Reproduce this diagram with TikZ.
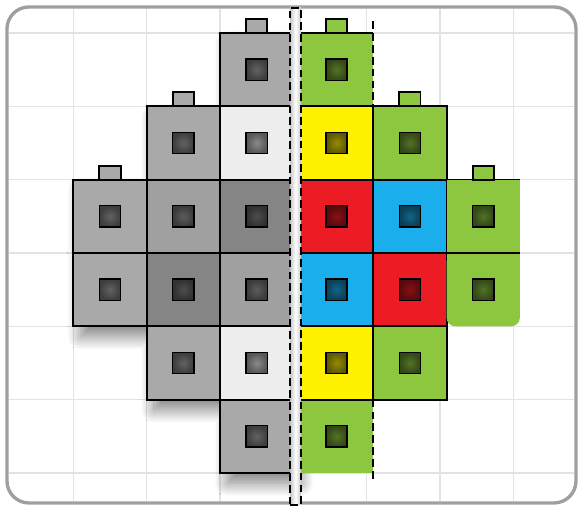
\documentclass[tikz,border=0pt]{standalone}
\usetikzlibrary{positioning, shadows.blur}

\definecolor{brickgreen}{HTML}{8DC63F}
\definecolor{brickyellow}{HTML}{FFF200}
\definecolor{brickred}{HTML}{EC1C24}
\definecolor{brickblue}{HTML}{1BAEEC}
\definecolor{greymid}{HTML}{A9A9A9}
\definecolor{greysoft}{HTML}{A0A0A0}
\definecolor{greydark}{HTML}{858585}
\definecolor{greylight}{HTML}{EDEDED}

\begin{document}
\begin{tikzpicture}[
    brick/.style={draw, line width=0.8pt, fill=#1, minimum size=1cm, inner sep=0pt, outer sep=0pt,
        path picture={\node[stud=#1] at (path picture bounding box.center) {};}},
    bare/.style={brick=#1, draw=none},
    stud/.style={draw, sharp corners, line width=0.6pt, minimum size=0.29cm, inner sep=0pt, inner color=#1!58!black, outer color=#1!36!black},
    knob/.style={draw, line width=0.7pt, fill=#1, minimum width=0.29cm, minimum height=0.19cm, inner sep=0pt, outer sep=0pt},
    board/.style={draw=gray!75, line width=1.3pt, rounded corners=0.3cm, inner sep=0pt, outer sep=0pt, minimum width=7.76cm, minimum height=6.764cm},
    gridline/.style={draw=black!11, line width=0.6pt},
    seam/.style={line width=0.5pt},
    edge/.style={line width=0.8pt},
    dashedge/.style={line width=0.9pt, dash pattern=on 3pt off 1.6pt},
    mirrorstrip/.style={draw, line width=0.8pt, dash pattern=on 3pt off 1.6pt, left color=gray!45, right color=gray!45, middle color=white, minimum width=0.15cm, minimum height=6.777cm, inner sep=0pt, outer sep=0pt}
]
\useasboundingbox (0,-0.477) rectangle (7.923,6.45);

% Board and grid
\node[board] (board) at (3.975,2.973) {};
\draw[gridline] ([shift={(0.03,0.03)}]board.south west) grid ([shift={(-0.03,-0.03)}]board.north east);

% Shadow under the grey half
\fill[white, blur shadow={shadow xshift=0.1cm, shadow yshift=-0.14cm, shadow blur radius=0.18cm, shadow blur steps=24, shadow opacity=50}]
    (1,4) -- (1,2) -- (2,2) -- (2,1) -- (3,1) -- (3,0) -- (4,0) -- (4,6) -- (3,6) -- (3,5) -- (2,5) -- (2,4) -- cycle;

% Grey half
\node[brick=greymid] (g12) at (1.5,2.5) {};
\node[brick=greymid] (g13) at (1.5,3.5) {};
\node[brick=greymid] (g21) at (2.5,1.5) {};
\node[brick=greydark] (g22) at (2.5,2.5) {};
\node[brick=greysoft] (g23) at (2.5,3.5) {};
\node[brick=greymid] (g24) at (2.5,4.5) {};
\node[brick=greymid] (g30) at (3.5,0.5) {};
\node[brick=greylight] (g31) at (3.5,1.5) {};
\node[brick=greysoft] (g32) at (3.5,2.5) {};
\node[brick=greydark] (g33) at (3.5,3.5) {};
\node[brick=greylight] (g34) at (3.5,4.5) {};
\node[brick=greymid] (g35) at (3.5,5.5) {};
\node[knob=greymid, above=0pt of g13] (k1) {};
\node[knob=greymid, above=0pt of g24] (k2) {};
\node[knob=greymid, above=0pt of g35] (k3) {};

% Coloured half
\node[bare=brickgreen] (c40) at (4.59,0.5) {};
\node[bare=brickgreen] (c45) at (4.59,5.5) {};
\node[brick=brickyellow] (c41) at (4.59,1.5) {};
\node[brick=brickblue] (c42) at (4.59,2.5) {};
\node[brick=brickred] (c43) at (4.59,3.5) {};
\node[brick=brickyellow] (c44) at (4.59,4.5) {};
\node[brick=brickgreen] (c51) at (5.59,1.5) {};
\node[brick=brickred] (c52) at (5.59,2.5) {};
\node[brick=brickblue] (c53) at (5.59,3.5) {};
\node[brick=brickgreen] (c54) at (5.59,4.5) {};
\node[bare=brickgreen, rounded corners=0.12cm] (c62) at (6.59,2.5) {};
\fill[brickgreen] (c62.north west) rectangle ([yshift=-0.2cm]c62.north east);
\node[bare=brickgreen] (c63) at (6.59,3.5) {};
\node[knob=brickgreen, above=0pt of c45] (k4) {};
\node[knob=brickgreen, above=0pt of c54] (k5) {};
\node[knob=brickgreen, above=0pt of c63] (k6) {};

% Open edges
\draw[seam] (c45.north west) -- (c45.north east);
\draw[seam] (c63.north west) -- (c63.north east);
\draw[edge] (c63.south west) -- (c63.south east);
\draw[dashedge] ([yshift=0.16cm]c45.north east) -- (c45.south east);
\draw[dashedge] (c40.north east) -- ([yshift=-0.09cm]c40.south east);

% Mirror line
\node[mirrorstrip] (mirror) at (4.03,2.9525) {};

\end{tikzpicture}
\end{document}
